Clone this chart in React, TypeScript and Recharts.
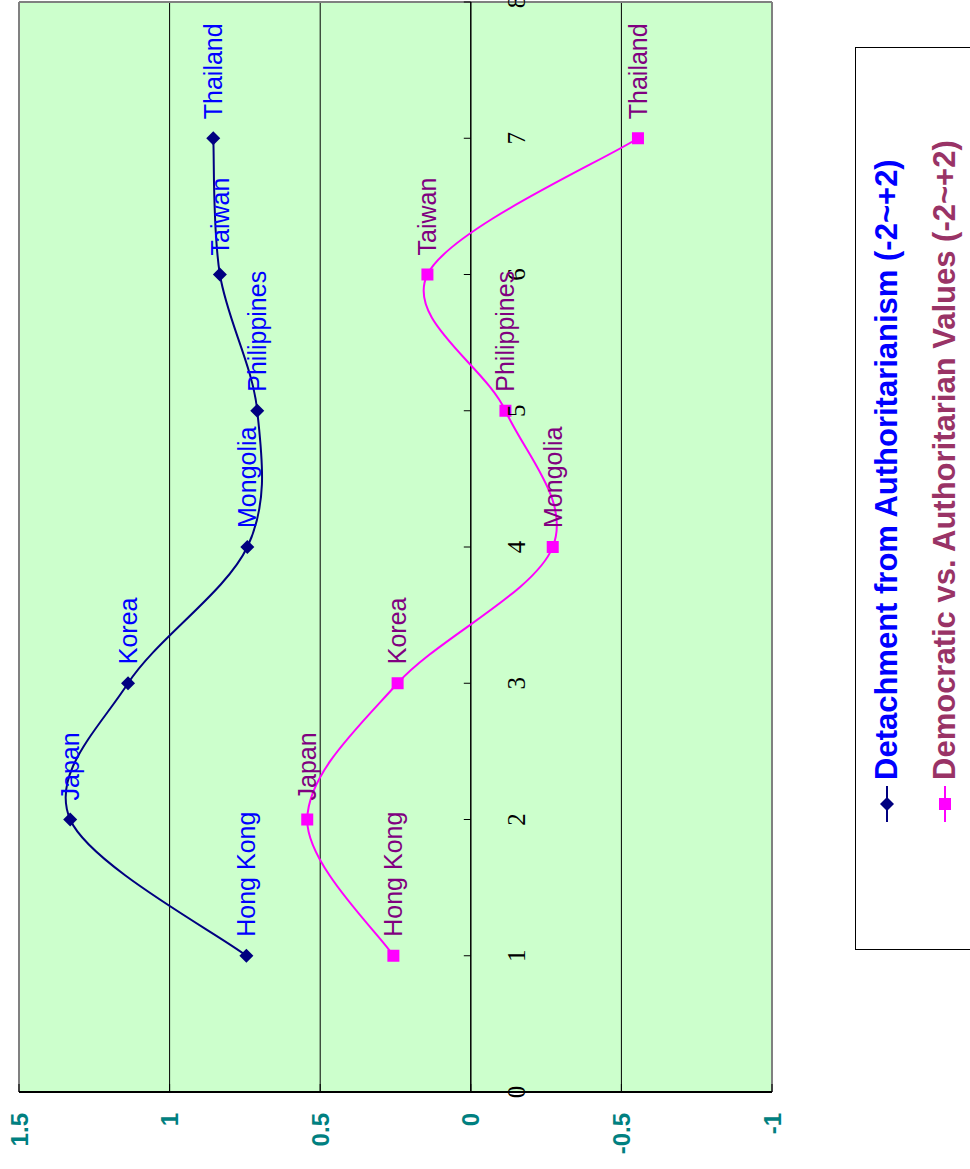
import React from 'react';
import { LineChart, Line, XAxis, YAxis, CartesianGrid, ReferenceLine, LabelList, Legend } from 'recharts';

// chart is drawn upright and then turned a quarter turn, like the source picture
const countries = ['Hong Kong', 'Japan', 'Korea', 'Mongolia', 'Philippines', 'Taiwan', 'Thailand'];
const positions = [1, 2, 3, 4, 5, 6, 7];
const detachment = [0.745, 1.33, 1.138, 0.742, 0.709, 0.833, 0.855];
const democratic = [0.257, 0.543, 0.243, -0.272, -0.115, 0.144, -0.555];
const xTicks = [0, 1, 2, 3, 4, 5, 6, 7, 8];
const yTicks = [-1, -0.5, 0, 0.5, 1, 1.5];
const gridValues = [1, 0.5, -0.5];

const SERIES_1 = 'Detachment from Authoritarianism (-2~+2)';
const SERIES_2 = 'Democratic vs. Authoritarian Values (-2~+2)';
const legendOrder = ['detachment', 'democratic'];

const rows = positions.map((x, i) => ({
  x,
  name: countries[i],
  detachment: detachment[i],
  democratic: democratic[i],
}));

const W = 1169;
const H = 970;
const PLOT_LEFT = 77;
const PLOT_TOP = 19;
const PLOT_BOTTOM = 772;
const Y_MIN = -1;
const Y_MAX = 1.5;
const zeroY = PLOT_TOP + ((PLOT_BOTTOM - PLOT_TOP) * Y_MAX) / (Y_MAX - Y_MIN);

const SANS = "'Liberation Sans', Arial, sans-serif";

// Excel-style smoothing (Catmull-Rom as cubic bezier)
const excelSmooth = (context: any) => {
  let pts: number[][] = [];
  return {
    areaStart() {},
    areaEnd() {},
    lineStart() {
      pts = [];
    },
    point(x: number, y: number) {
      pts.push([+x, +y]);
    },
    lineEnd() {
      if (!pts.length) return;
      context.moveTo(pts[0][0], pts[0][1]);
      for (let i = 0; i < pts.length - 1; i++) {
        const p0 = pts[Math.max(0, i - 1)];
        const p1 = pts[i];
        const p2 = pts[i + 1];
        const p3 = pts[Math.min(pts.length - 1, i + 2)];
        context.bezierCurveTo(
          p1[0] + (p2[0] - p0[0]) / 6,
          p1[1] + (p2[1] - p0[1]) / 6,
          p2[0] - (p3[0] - p1[0]) / 6,
          p2[1] - (p3[1] - p1[1]) / 6,
          p2[0],
          p2[1]
        );
      }
    },
  };
};

const Diamond = ({ cx, cy }: any) => (
  <path d={`M${cx},${cy - 7}L${cx + 7},${cy}L${cx},${cy + 7}L${cx - 7},${cy}Z`} fill="#000080" />
);
const Square = ({ cx, cy }: any) => <rect x={cx - 6} y={cy - 6} width={12} height={12} fill="#FF00FF" />;

function XTick({ x, payload }: any) {
  return (
    <g>
      <line x1={x} x2={x} y1={zeroY} y2={zeroY - 7} stroke="#000" />
      <text
        x={x}
        y={zeroY + 46}
        textAnchor="middle"
        dominantBaseline="central"
        fontFamily="'Liberation Serif', 'Times New Roman', serif"
        fontSize={25}
        fill="#000"
      >
        {payload.value}
      </text>
    </g>
  );
}

function YTick({ y, payload }: any) {
  return (
    <g>
      <line x1={PLOT_LEFT} x2={PLOT_LEFT + 8} y1={y} y2={y} stroke="#000" />
      <text
        x={PLOT_LEFT - 21}
        y={y}
        textAnchor="end"
        dominantBaseline="central"
        fontFamily={SANS}
        fontWeight="bold"
        fontSize={24}
        fill="#008080"
      >
        {payload.value}
      </text>
    </g>
  );
}

const legendStyle: Record<string, { text: string; line: string; square: boolean }> = {
  detachment: { text: '#0000FF', line: '#000080', square: false },
  democratic: { text: '#993366', line: '#FF00FF', square: true },
};

function LegendBox({ payload }: any) {
  const items = [...(payload || [])].sort(
    (a: any, b: any) => legendOrder.indexOf(a.dataKey) - legendOrder.indexOf(b.dataKey)
  );
  return (
    <div style={{ width: 903, height: 130, border: '1px solid #000', boxSizing: 'border-box', background: '#fff' }}>
      {items.map((p: any, i: number) => {
        const s = legendStyle[p.dataKey];
        return (
          <div
            key={p.dataKey}
            style={{ position: 'absolute', left: 128, top: 10 + i * 58, height: 44, display: 'flex', alignItems: 'center' }}
          >
            <svg width={36} height={20} style={{ marginRight: 6 }}>
              <line x1={0} x2={36} y1={10} y2={10} stroke={s.line} strokeWidth={2} />
              {s.square ? (
                <rect x={12} y={4} width={12} height={12} fill={s.line} />
              ) : (
                <path d="M18,3L25,10L18,17L11,10Z" fill={s.line} />
              )}
            </svg>
            <span style={{ fontFamily: SANS, fontWeight: 'bold', fontSize: 31, color: s.text, whiteSpace: 'nowrap' }}>
              {p.value}
            </span>
          </div>
        );
      })}
    </div>
  );
}

export default function App() {
  return (
    <div style={{ position: 'absolute', left: 0, top: 0, width: H, height: W, overflow: 'hidden', background: '#fff' }}>
      <div
        style={{
          position: 'absolute',
          left: 0,
          top: 0,
          width: W,
          height: H,
          transformOrigin: '0 0',
          transform: `translateY(${W}px) rotate(-90deg)`,
        }}
      >
        <LineChart width={W} height={H} data={rows} margin={{ top: PLOT_TOP, right: 2, bottom: 168, left: 0 }}>
          <CartesianGrid vertical={false} horizontal={false} fill="#CCFFCC" fillOpacity={1} />
          {gridValues.map((v) => (
            <ReferenceLine key={v} y={v} stroke="#000" strokeWidth={1} />
          ))}
          <ReferenceLine y={Y_MAX} stroke="#808080" strokeWidth={2} />
          <ReferenceLine y={Y_MIN} stroke="#808080" strokeWidth={2} />
          <ReferenceLine x={8} stroke="#808080" strokeWidth={2} />
          <ReferenceLine y={0} stroke="#000" strokeWidth={1.5} />
          <XAxis
            type="number"
            dataKey="x"
            domain={[0, 8]}
            ticks={xTicks}
            interval={0}
            axisLine={false}
            tickLine={false}
            tick={<XTick />}
            height={30}
          />
          <YAxis
            type="number"
            domain={[Y_MIN, Y_MAX]}
            ticks={yTicks}
            interval={0}
            width={PLOT_LEFT}
            axisLine={{ stroke: '#000', strokeWidth: 2 }}
            tickLine={false}
            tick={<YTick />}
          />
          <Legend
            layout="horizontal"
            verticalAlign="middle"
            align="center"
            wrapperStyle={{ left: 219, top: 855, width: 903, height: 130 }}
            content={<LegendBox />}
          />
          <Line
            name={SERIES_1}
            dataKey="detachment"
            type={excelSmooth as any}
            stroke="#000080"
            strokeWidth={2}
            dot={Diamond}
            activeDot={false}
            isAnimationActive={false}
          >
            <LabelList dataKey="name" position="right" offset={19} fill="#0000FF" fontSize={25} fontFamily={SANS} />
          </Line>
          <Line
            name={SERIES_2}
            dataKey="democratic"
            type={excelSmooth as any}
            stroke="#FF00FF"
            strokeWidth={2}
            dot={Square}
            activeDot={false}
            isAnimationActive={false}
          >
            <LabelList dataKey="name" position="right" offset={19} fill="#800080" fontSize={25} fontFamily={SANS} />
          </Line>
        </LineChart>
      </div>
    </div>
  );
}
